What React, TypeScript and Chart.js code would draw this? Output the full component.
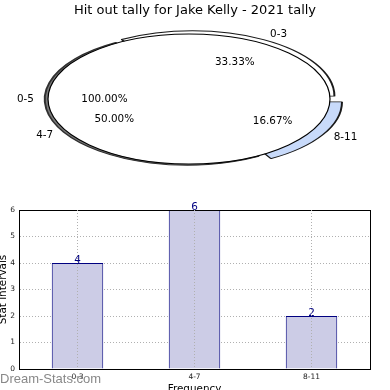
import React, { useEffect, useRef } from "react";
import { Chart, registerables } from "chart.js";

Chart.register(...registerables);
Chart.defaults.font.family = "'DejaVu Sans', sans-serif";

// ---------- data ----------
const chartTitle = "Hit out tally for Jake Kelly - 2021 tally";

const totalLabels = ["0-5"];
const totalValues = [12];

const sliceLabels = ["0-3", "8-11", "4-7"];
const sliceValues = [4, 2, 6];

const barCategories = ["0-3", "4-7", "8-11"];
const barValues = [4, 6, 2];
const yAxisMin = 0;
const yAxisMax = 6;
const yAxisStep = 1;
const xAxisTitle = "Frequency";
const yAxisTitle = "Stat intervals";
const watermarkText = "Dream-Stats.com";

// ---------- styles ----------
const sliceColors = ["#ffffff", "#c8dafa", "#7a7a7a"];
const sliceBorders = ["#1a1a1a", "#1a1a1a", "#303030"];
const sliceOffsets = [28, 48, 7];

const CX = 189;
const CY = 99;
const RX = 141;
const SY = 65 / 141;

const pieGeometry = {
  id: "pieGeometry",
  afterDatasetUpdate(_chart: any, args: any) {
    for (const el of args.meta.data) {
      el.outerRadius = RX;
      el.innerRadius = 0;
    }
  },
  beforeDatasetsDraw(chart: any) {
    const el = chart.getDatasetMeta(0).data[0];
    const ctx = chart.ctx;
    ctx.save();
    ctx.translate(CX, CY);
    ctx.scale(1, SY);
    ctx.translate(-el.x, -el.y);
  },
  afterDatasetsDraw(chart: any) {
    const ctx = chart.ctx;
    ctx.restore();
    // outline of the full "0-5" ellipse (the full slice has no radial edge)
    const el = chart.getDatasetMeta(0).data[0];
    ctx.save();
    ctx.beginPath();
    ctx.ellipse(CX, CY, el.outerRadius, el.outerRadius * SY, 0, 0, Math.PI * 2);
    ctx.strokeStyle = "#000";
    ctx.lineWidth = 1.2;
    ctx.stroke();
    ctx.restore();
  },
  afterDraw(chart: any) {
    const ctx = chart.ctx;
    const names = [totalLabels, sliceLabels];
    ctx.save();
    ctx.font = "10.4px 'DejaVu Sans'";
    ctx.fillStyle = "#000";
    chart.data.datasets.forEach((ds: any, di: number) => {
      const meta = chart.getDatasetMeta(di);
      const sum = ds.data.reduce((a: number, b: number) => a + b, 0);
      meta.data.forEach((el: any, i: number) => {
        const mid = (el.startAngle + el.endAngle) / 2;
        const off = (el.options.offset || 0) / 4;
        const c = Math.cos(mid);
        const s = Math.sin(mid);
        const at = (k: number) => [CX + (RX * k + off) * c, CY + (RX * k + off) * s * SY];
        const [lx, ly] = at(1.1);
        ctx.textBaseline = "middle";
        ctx.textAlign = c > 0 ? "left" : "right";
        ctx.fillText(names[di][i], lx, ly);
        const [px, py] = at(0.6);
        ctx.textAlign = "center";
        ctx.fillText(((ds.data[i] / sum) * 100).toFixed(2) + "%", px, py);
      });
    });
    ctx.restore();
  },
};

const framePlugin = {
  id: "frame",
  afterDatasetsDraw(chart: any) {
    const { ctx, chartArea: a } = chart;
    ctx.save();
    ctx.strokeStyle = "#000";
    ctx.lineWidth = 1;
    ctx.strokeRect(Math.round(a.left) + 0.5, Math.round(a.top) + 0.5, Math.round(a.right - a.left), Math.round(a.bottom - a.top));
    ctx.restore();
  },
};

const valueLabels = {
  id: "valueLabels",
  afterDatasetsDraw(chart: any) {
    const ctx = chart.ctx;
    const meta = chart.getDatasetMeta(0);
    ctx.save();
    ctx.font = "10.4px 'DejaVu Sans'";
    ctx.fillStyle = "#000080";
    ctx.textAlign = "center";
    ctx.textBaseline = "alphabetic";
    meta.data.forEach((bar: any, i: number) => {
      ctx.fillText(String(chart.data.datasets[0].data[i]), bar.x, bar.y);
    });
    ctx.restore();
  },
};

const watermark = {
  id: "watermark",
  afterDraw(chart: any) {
    const ctx = chart.ctx;
    ctx.save();
    ctx.font = "13px 'Liberation Sans'";
    ctx.fillStyle = "#888888";
    ctx.textAlign = "left";
    ctx.textBaseline = "alphabetic";
    ctx.fillText(watermarkText, 0, 187.5);
    ctx.restore();
  },
};

export default function App() {
  const pieRef = useRef<HTMLCanvasElement>(null);
  const barRef = useRef<HTMLCanvasElement>(null);

  useEffect(() => {
    document.body.style.margin = "0";
    document.body.style.overflow = "hidden";
    const pie = new Chart(pieRef.current!, {
      type: "pie",
      data: {
        labels: sliceLabels,
        datasets: [
          {
            data: totalValues,
            backgroundColor: "#ffffff",
            borderWidth: 0,
            rotation: 90,
          } as any,
          {
            data: sliceValues,
            backgroundColor: sliceColors,
            borderColor: sliceBorders,
            borderWidth: 2,
            offset: sliceOffsets,
            rotation: -30,
          } as any,
        ],
      },
      options: {
        responsive: false,
        animation: false,
        events: [],
        plugins: {
          legend: { display: false },
          tooltip: { enabled: false },
          title: {
            display: true,
            text: chartTitle,
            color: "#000",
            font: { size: 13, weight: "normal", family: "'DejaVu Sans'" },
            padding: { top: 3, bottom: 4 },
          },
        },
      } as any,
      plugins: [pieGeometry],
    });

    const bar = new Chart(barRef.current!, {
      type: "bar",
      data: {
        labels: barCategories,
        datasets: [
          {
            data: barValues,
            backgroundColor: "#ccccE6",
            borderColor: "#000080",
            borderWidth: 1,
            barPercentage: 0.44,
            categoryPercentage: 1,
          },
        ],
      },
      options: {
        responsive: false,
        animation: false,
        events: [],
        layout: { padding: { top: 15, right: 20, left: 0, bottom: 0 } },
        plugins: { legend: { display: false }, tooltip: { enabled: false } },
        scales: {
          x: {
            grid: { color: "#b0b0b0", drawTicks: false, offset: false, z: 1 },
            border: { color: "#000", dash: [1, 2] },
            ticks: { font: { size: 7.5 }, color: "#222", padding: 4 },
            title: {
              display: true,
              text: xAxisTitle,
              color: "#000",
              font: { size: 10.4 },
              padding: { top: 0, bottom: 4 },
            },
            afterFit: (s: any) => {
              s.height = 31;
            },
          },
          y: {
            min: yAxisMin,
            max: yAxisMax,
            grid: { color: "#b0b0b0", drawTicks: false },
            border: { color: "#000", dash: [1, 2] },
            ticks: { stepSize: yAxisStep, font: { size: 7.5 }, color: "#222", padding: 4 },
            title: {
              display: true,
              text: yAxisTitle,
              color: "#000",
              font: { size: 10.4 },
              padding: { top: -3, bottom: 0 },
            },
            afterFit: (s: any) => {
              s.width = 19;
            },
          },
        },
      } as any,
      plugins: [framePlugin, valueLabels, watermark],
    });

    return () => {
      pie.destroy();
      bar.destroy();
    };
  }, []);

  return (
    <div style={{ position: "relative", width: 390, height: 390, overflow: "hidden", background: "#fff" }}>
      <canvas ref={pieRef} width={390} height={190} style={{ position: "absolute", left: 0, top: 0 }} />
      <canvas
        ref={barRef}
        width={390}
        height={205}
        style={{ position: "absolute", left: 0, top: 195, clipPath: "inset(2px 0 0 0)" }}
      />
    </div>
  );
}
